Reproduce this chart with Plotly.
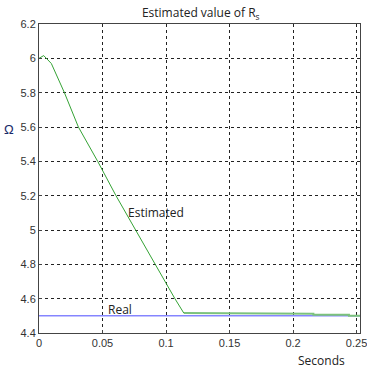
import plotly.graph_objects as go

# Estimated R_s trace (seconds, ohms)
t_est = [0.0, 0.0037, 0.0097, 0.020, 0.031, 0.0462, 0.0606, 0.0763, 0.0915, 0.107, 0.114,
         0.176, 0.176, 0.216, 0.216, 0.244, 0.244, 0.2527]
r_est = [6.0, 6.016, 5.97, 5.8, 5.6, 5.4, 5.2, 5.0, 4.8, 4.6, 4.516,
         4.516, 4.512, 4.512, 4.506, 4.506, 4.5, 4.5]
# Real R_s
t_real = [0.0, 0.2527]
r_real = [4.5, 4.5]

x_ticks = [0, 0.05, 0.1, 0.15, 0.2, 0.25]
x_tick_labels = ["0", "0.05", "0.1", "0.15", "0.2", "0.25"]
y_ticks = [4.4, 4.6, 4.8, 5.0, 5.2, 5.4, 5.6, 5.8, 6.0, 6.2]
y_tick_labels = ["4.4", "4.6", "4.8", "5", "5.2", "5.4", "5.6", "5.8", "6", "6.2"]

font_main = "Liberation Sans Narrow, Arial Narrow, Liberation Sans, sans-serif"
font_text = "Segoe UI, Open Sans, sans-serif"

split = 10  # index where the estimate settles

fig = go.Figure()
fig.add_trace(go.Scatter(x=t_real, y=r_real, mode="lines",
                         line=dict(color="#4a4aff", width=1), showlegend=False))
fig.add_trace(go.Scatter(x=t_est[split:], y=r_est[split:], mode="lines",
                         line=dict(color="#7cc27c", width=2), showlegend=False))
fig.add_trace(go.Scatter(x=t_est[:split + 1], y=r_est[:split + 1], mode="lines",
                         line=dict(color="#35a335", width=1), showlegend=False))

fig.add_annotation(x=0.092, y=5.1, text="Estimated", showarrow=False,
                   font=dict(family=font_text, size=12, color="#222"))
fig.add_annotation(x=0.064, y=4.535, text="Real", showarrow=False,
                   font=dict(family=font_text, size=12, color="#222"))
fig.add_annotation(x=1.0, y=-0.055, xref="paper", yref="paper", text="Seconds",
                   showarrow=False, xanchor="right", yanchor="top", xshift=-13,
                   font=dict(family=font_text, size=12, color="#222"))
fig.add_annotation(x=-0.095, y=0.69, xref="paper", yref="paper", text="Ω",
                   showarrow=False, xanchor="center",
                   font=dict(family="Liberation Sans, sans-serif", size=13, color="#1a2a6a"))

axis_common = dict(showline=True, linecolor="#444", linewidth=1, mirror=True,
                   showgrid=True, gridcolor="#222", griddash="dot", gridwidth=1,
                   ticks="inside", ticklen=3, tickcolor="#444", zeroline=False,
                   automargin=False, ticklabeloverflow="allow",
                   tickfont=dict(family=font_main, size=11, color="#333"))

fig.update_layout(
    width=367, height=368,
    margin=dict(l=39, r=7, t=24, b=35),
    paper_bgcolor="white", plot_bgcolor="white",
    title=dict(text="Estimated value of R<sub>s</sub>", x=0.547, xanchor="center",
               y=0.965, yanchor="middle",
               font=dict(family=font_text, size=12, color="#222")),
    xaxis=dict(range=[0, 0.2527], tickvals=x_ticks, ticktext=x_tick_labels, **axis_common),
    yaxis=dict(range=[4.4, 6.2], tickvals=y_ticks, ticktext=y_tick_labels, **axis_common),
)

fig.write_html("out.html", config={"displayModeBar": False},
               post_script="document.body.style.margin='0';document.body.style.overflow='hidden';")
